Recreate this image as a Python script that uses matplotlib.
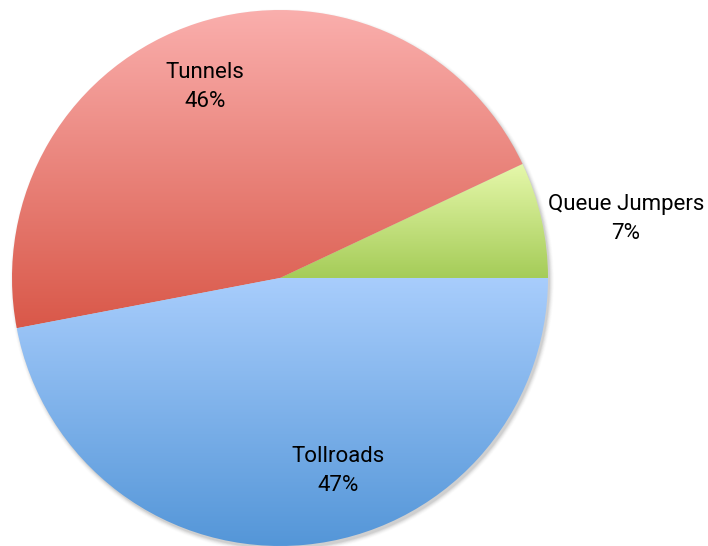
import numpy as np
import matplotlib.pyplot as plt
from matplotlib.colors import LinearSegmentedColormap
from matplotlib.patches import Circle

# Slice data (counter-clockwise from 3 o'clock)
labels = ["Queue Jumpers", "Tunnels", "Tollroads"]
shares = [7, 46, 47]

# top / bottom colours of each slice's vertical gradient
grad_top = ["#E6F8AB", "#FAAFAD", "#A8CDFC"]
grad_bottom = ["#A5CC58", "#D95849", "#5496D8"]

# label anchor points in pixel space (y measured from top)
label_xy = [(626, 219), (205, 87), (338, 471)]

plt.rcParams['font.family'] = ['Roboto', 'DejaVu Sans']

W, H = 708, 546
fig = plt.figure(figsize=(W / 100, H / 100), dpi=100)
ax = fig.add_axes([0, 0, 1, 1])

cx, cy, r = 280, H - 278, 268

# soft drop shadow under the pie
for i, a in enumerate(np.linspace(0.05, 0.01, 6)):
    ax.add_patch(Circle((cx + 2, cy - 3), r + i * 0.8, color="black",
                        alpha=a, lw=0, zorder=0))

wedges, _ = ax.pie(shares, startangle=0, counterclock=True, radius=r,
                   center=(cx, cy), wedgeprops=dict(lw=0))

for w, top, bot in zip(wedges, grad_top, grad_bottom):
    w.set_facecolor("none")
    bb = w.get_path().get_extents()
    cmap = LinearSegmentedColormap.from_list("g", [bot, top])
    grad = np.linspace(0, 1, 256).reshape(-1, 1)
    im = ax.imshow(grad, cmap=cmap, origin="lower", aspect="auto",
                   extent=[bb.x0, bb.x1, bb.y0, bb.y1], zorder=1,
                   interpolation="bilinear")
    im.set_clip_path(w)

for name, pct, (x, y) in zip(labels, shares, label_xy):
    ax.text(x, H - y, f"{name}\n{pct}%", ha="center", va="center",
            fontsize=16, linespacing=1.55, zorder=3)

ax.set_xlim(0, W)
ax.set_ylim(0, H)
ax.set_aspect("auto")
ax.axis("off")

fig.savefig("out.png", dpi=100)
